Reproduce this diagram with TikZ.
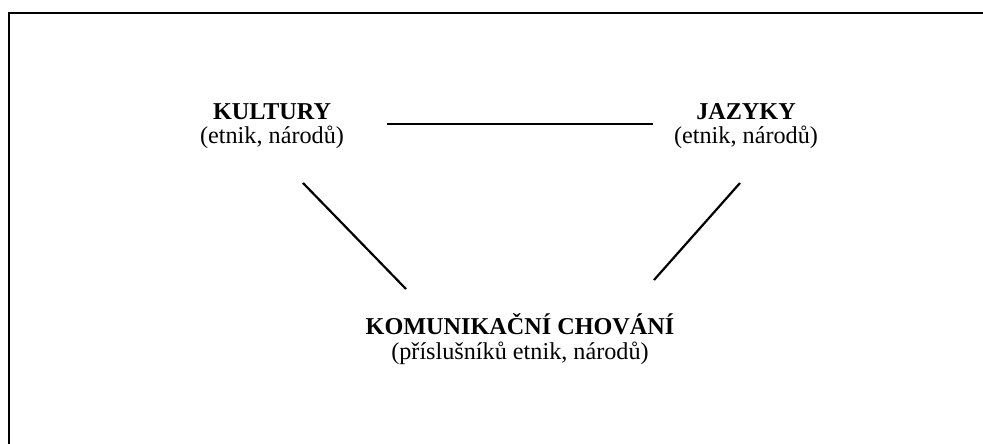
\documentclass[tikz,border=0pt]{standalone}
\usepackage{fontspec}
\setmainfont{Liberation Serif}
\begin{document}
\begin{tikzpicture}[x=1pt,y=-1pt,
  label/.style={align=center,inner sep=0pt,font=\fontsize{24.2}{24.5}\selectfont},
  link/.style={line width=2.2pt}]
\useasboundingbox (0,0) rectangle (983,444);
\fill[white] (0,0) rectangle (983,444);
% open frame (top and left edges)
\draw[line width=2.4pt] (9,446) -- (9,13) -- (985,13);
% concepts
\node[label] (kul) at (272,126) {\textbf{KULTURY}\\(etnik, národů)};
\node[label] (jaz) at (746,126) {\textbf{JAZYKY}\\(etnik, národů)};
\node[label] (kom) at (520,339) {\textbf{KOMUNIKAČNÍ CHOVÁNÍ}\\(příslušníků etnik, národů)};
% connector end points
\coordinate (kj1) at (387,124);
\coordinate (kj2) at (653,124);
\coordinate (kk1) at (303,183);
\coordinate (kk2) at (406,289);
\coordinate (jk1) at (740,183);
\coordinate (jk2) at (654,280);
% connectors
\draw[link] (kj1) -- (kj2);
\draw[link] (kk1) -- (kk2);
\draw[link] (jk1) -- (jk2);
\end{tikzpicture}
\end{document}
